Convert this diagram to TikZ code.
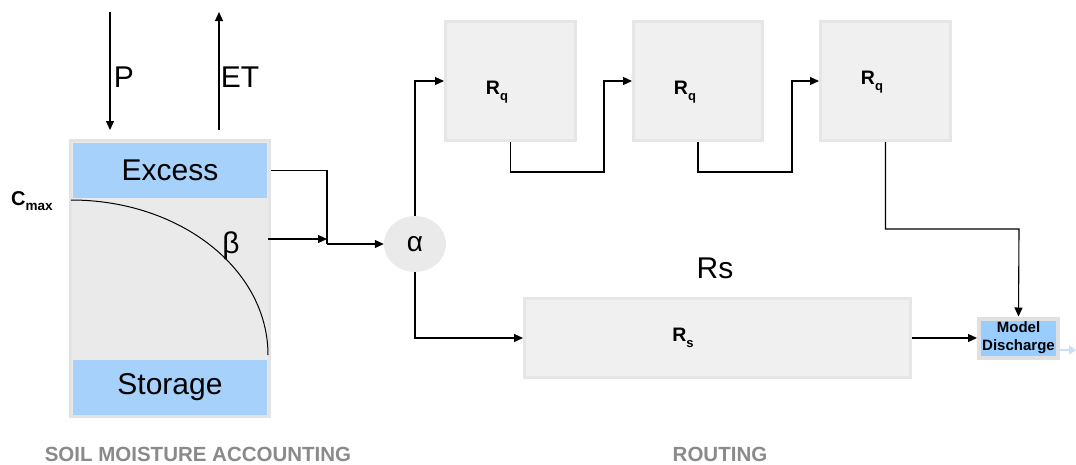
\documentclass[tikz,border=0pt]{standalone}
\usepackage{fontspec}
\setmainfont{Liberation Sans}
\usetikzlibrary{arrows.meta,shapes.geometric}
\definecolor{soilfill}{HTML}{EAEAEA}
\definecolor{soilline}{HTML}{E3E3E3}
\definecolor{layerblue}{HTML}{A6D1FB}
\definecolor{boxfill}{HTML}{F0F0F0}
\definecolor{boxline}{HTML}{E6E6E6}
\definecolor{mdblue}{HTML}{99CCFF}
\definecolor{mdline}{HTML}{E0E0E0}
\definecolor{captiongray}{HTML}{8A8A8A}
\definecolor{tailblue}{HTML}{C6E0F8}
\newcommand{\mysub}[3]{\textbf{#1}\raisebox{-0.28em}{\fontsize{#3}{#3}\selectfont\textbf{#2}}}
\begin{document}
\begin{tikzpicture}[x=1pt,y=-1pt,
  conn/.style={draw=black,line width=1.1pt},
  arr/.style={conn,-{Triangle[length=9pt,width=8pt]}},
  bigtext/.style={font=\fontsize{30}{36}\selectfont},
  routebox/.style={draw=boxline,fill=boxfill,line width=3pt,inner sep=0pt},
  layer/.style={fill=layerblue,inner sep=0pt,minimum width=194pt,minimum height=55pt,font=\fontsize{30}{36}\selectfont},
  caption/.style={text=captiongray,font=\fontsize{20.5}{24}\selectfont\bfseries},
  lab/.style={font=\fontsize{19.5}{22}\selectfont}
]
\useasboundingbox (0,0) rectangle (1076,464);
\fill[white] (0,0) rectangle (1076,464);

% soil moisture accounting
\node[draw=soilline,fill=soilfill,line width=3pt,minimum width=199pt,minimum height=276pt,inner sep=0pt] (soil) at (170,278.5) {};
\node[layer] (excess) at (170,170.5) {Excess};
\node[layer] (storage) at (170,387.5) {Storage};
\draw[line width=1pt] (71,200) .. controls (180,200) and (268,269) .. (268,355);
\node[font=\fontsize{20}{22}\selectfont,anchor=west,inner sep=0pt] (cmax) at (11,201) {\mysub{C}{max}{13.5}};
\node[bigtext] (beta) at (231,246) {β};

\coordinate (pstart) at (110,12);
\coordinate (pend) at (110,130);
\draw[arr] (pstart) -- (pend);
\node[bigtext] (plab) at (124,77) {P};
\coordinate (etstart) at (219,130);
\coordinate (etend) at (219,12);
\draw[arr] (etstart) -- (etend);
\node[bigtext] (etlab) at (240,77) {ET};

% routing
\node[fill=soilfill,ellipse,minimum width=62pt,minimum height=56pt,inner sep=0pt,font=\fontsize{28}{32}\selectfont] (alpha) at (415,244) {α};
\coordinate (j) at (327,244);
\coordinate (bstart) at (268,239);
\coordinate (bend) at (327,239);
\draw[conn] (soil.east |- excess.east) -| (j);
\draw[arr] (bstart) -- (bend);
\draw[arr] (j) -- (alpha.west);

\node[routebox,minimum width=130pt,minimum height=119pt] (box1) at (510.5,81) {};
\node[routebox,minimum width=129pt,minimum height=119pt] (box2) at (698,81) {};
\node[routebox,minimum width=130pt,minimum height=119pt] (box3) at (885.5,81) {};
\node[lab] (rq1) at (497,92) {\mysub{R}{q}{13}};
\node[lab] (rq2) at (685,92) {\mysub{R}{q}{13}};
\node[lab] (rq3) at (872,82) {\mysub{R}{q}{13}};

\node[routebox,minimum width=386pt,minimum height=79pt] (rs) at (717.5,338) {};
\node[lab] (rslab) at (683,338) {\mysub{R}{s}{13}};
\node[bigtext] (rstitle) at (715,268) {Rs};

\node[draw=mdline,fill=mdblue,line width=4pt,minimum width=79pt,minimum height=39pt,inner sep=0pt,align=center,font=\fontsize{15}{18}\selectfont\bfseries] (md) at (1018.5,338) {Model\\Discharge};

\coordinate (c12) at (604,172);
\coordinate (c23) at (792,172);
\coordinate (c3) at (1019,229);
\draw[arr] (alpha.north) |- (box1.west);
\draw[arr] (box1.south) |- (c12) |- (box2.west);
\draw[arr] (box2.south) |- (c23) |- (box3.west);
\draw[arr] (box3.south) |- (c3) -- (md.north);
\draw[arr] (alpha.south) |- (rs.west);
\draw[arr] (rs.east) -- (md.west);
\coordinate (tailend) at (1076,350);
\draw[tailblue,line width=2.5pt,-{Triangle[length=7pt,width=9pt]}] (md.east |- tailend) -- (tailend);

\node[caption] (cap1) at (198,454) {SOIL MOISTURE ACCOUNTING};
\node[caption] (cap2) at (720,454) {ROUTING};
\end{tikzpicture}
\end{document}
